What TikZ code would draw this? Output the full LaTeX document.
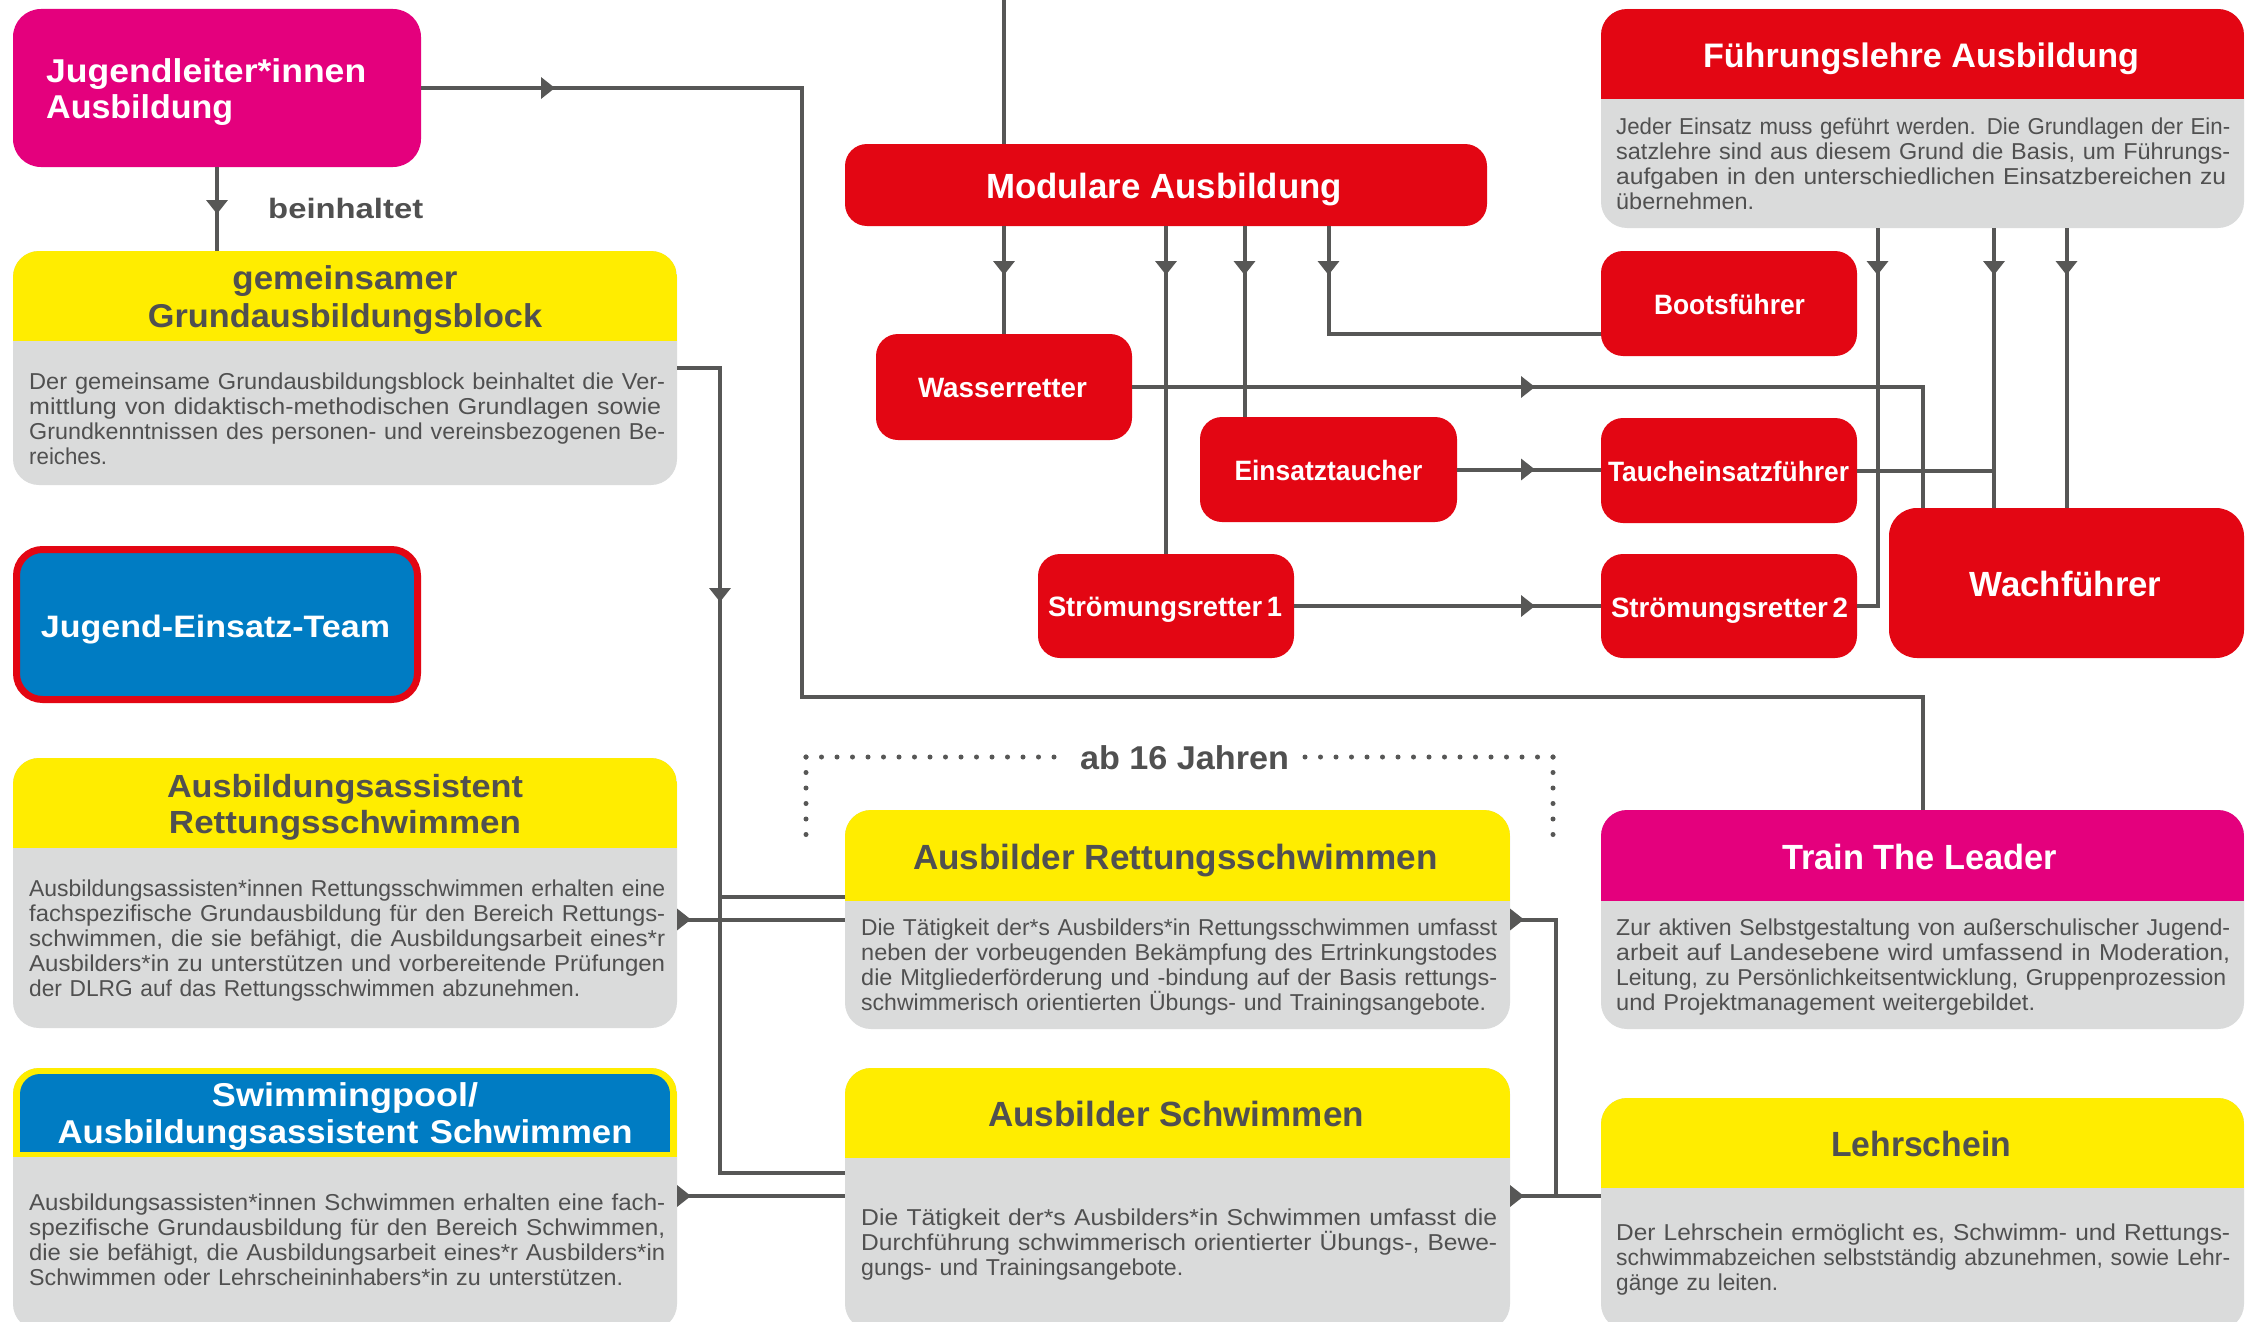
\documentclass[tikz,border=0pt]{standalone}
\usepackage{fontspec}
\setmainfont{Liberation Sans}
\usepackage{graphicx}
\usetikzlibrary{arrows.meta,decorations.markings}
\definecolor{dred}{RGB}{227,6,19}
\definecolor{dmag}{RGB}{228,0,125}
\definecolor{dblue}{RGB}{0,124,195}
\definecolor{dyel}{RGB}{255,237,0}
\definecolor{dgray}{RGB}{218,219,219}
\definecolor{lgray}{RGB}{87,87,86}
\definecolor{tgray}{RGB}{80,80,80}
\newcommand\fw[2]{\resizebox{#1pt}{\height}{#2}}
\newcommand\fsz[2]{\fontsize{#1}{#2}\selectfont}
\newcommand\hdr[3]{\begin{scope}\clip[rounded corners=26pt] (#1.north west) rectangle (#1.south east);\fill[#2] (#1.north west) rectangle ([yshift=-#3pt]#1.north east);\end{scope}}
\tikzset{
 bx/.style={rectangle, inner sep=0pt, outer sep=0pt, anchor=north west, rounded corners=#1},
 bx/.default=26pt,
 conn/.style={color=lgray, line width=4pt},
 am/.style={postaction={decorate}, decoration={markings, mark=at position #1 with {\arrow{Triangle[length=14pt,width=21pt]}}}},
 dotline/.style={color=lgray, line width=5pt, line cap=round, dash pattern=on 0pt off 15.5pt},
 tw/.style={anchor=base, inner sep=0pt, text=white, font=\bfseries\fsz{#1}{#1}},
 tg/.style={anchor=base, inner sep=0pt, text=tgray, font=\bfseries\fsz{#1}{#1}},
 body/.style={anchor=base west, inner sep=0pt, text=tgray, align=left, text width=#1pt, font=\fsz{23}{25.2}},
}
\begin{document}
\lineskiplimit=-60pt
\begin{tikzpicture}[x=1pt,y=-1pt]
\useasboundingbox (0,0) rectangle (2255,1322);
\fill[white] (0,0) rectangle (2255,1322);

% ---------- left column ----------
\node[bx=28pt, fill=dmag, minimum width=408pt, minimum height=158pt] (jug) at (13,9) {};
\node[tw=33, anchor=base west, text width=340pt, align=left, font=\bfseries\fsz{33}{36}] (jugt) at (46,82) {\fw{320}{Jugendleiter*innen}\\\fw{187}{Ausbildung}};
\node[tg=28, anchor=base west] (bein) at (268,218) {\fw{155}{beinhaltet}};

\node[bx, fill=dgray, minimum width=664pt, minimum height=234pt] (gem) at (13,251) {};
\hdr{gem}{dyel}{90}
\node[tg=33, text width=640pt, align=center, font=\bfseries\fsz{33}{38}] (gemt) at (345,289) {\fw{225}{gemeinsamer}\\\fw{394}{Grundausbildungsblock}};
\node[body=640] (gemb) at (29,389) {\fw{636}{Der gemeinsame Grundausbildungsblock beinhaltet die Ver-}\\\fw{632}{mittlung von didaktisch-methodischen Grundlagen sowie}\\\fw{636}{Grundkenntnissen des personen- und vereinsbezogenen Be-}\\\fw{78}{reiches.}};

\node[bx, fill=dblue, draw=dred, line width=7pt, minimum width=401pt, minimum height=150pt] (jet) at (16.5,549.5) {};
\node[tw=31] (jett) at (215.5,637) {\fw{349}{Jugend-Einsatz-Team}};

\node[bx, fill=dgray, minimum width=664pt, minimum height=270pt] (aars) at (13,758) {};
\hdr{aars}{dyel}{90}
\node[tg=32, text width=640pt, align=center, font=\bfseries\fsz{32}{36}] (aarst) at (345,797) {\fw{356}{Ausbildungsassistent}\\\fw{352}{Rettungsschwimmen}};
\node[body=640] (aarsb) at (29,896) {\fw{636}{Ausbildungsassisten*innen Rettungsschwimmen erhalten eine}\\\fw{636}{fachspezifische Grundausbildung für den Bereich Rettungs-}\\\fw{636}{schwimmen, die sie befähigt, die Ausbildungsarbeit eines*r}\\\fw{636}{Ausbilders*in zu unterstützen und vorbereitende Prüfungen}\\\fw{551}{der DLRG auf das Rettungsschwimmen abzunehmen.}};

\node[bx, fill=dgray, minimum width=664pt, minimum height=262pt] (swim) at (13,1068) {};
\hdr{swim}{dyel}{89}
\begin{scope}
\clip[rounded corners=20pt] ([xshift=7pt,yshift=-6pt]swim.north west) rectangle ([xshift=-7pt,yshift=-200pt]swim.north east);
\fill[dblue] ([xshift=7pt,yshift=-6pt]swim.north west) rectangle ([xshift=-7pt,yshift=-84pt]swim.north east);
\end{scope}
\node[tw=33, text width=640pt, align=center, font=\bfseries\fsz{33}{37}] (swimt) at (345,1106) {\fw{266}{Swimmingpool/}\\\fw{575}{Ausbildungsassistent Schwimmen}};
\node[body=640] (swimb) at (29,1210) {\fw{636}{Ausbildungsassisten*innen Schwimmen erhalten eine fach-}\\\fw{636}{spezifische Grundausbildung für den Bereich Schwimmen,}\\\fw{636}{die sie befähigt, die Ausbildungsarbeit eines*r Ausbilders*in}\\\fw{594}{Schwimmen oder Lehrscheininhabers*in zu unterstützen.}};

% ---------- red modules ----------
\node[bx=22pt, fill=dred, minimum width=642pt, minimum height=82pt] (mod) at (845,144) {};
\node[tw=35] (modt) at (1164,198) {\fw{356}{Modulare Ausbildung}};
\node[bx=22pt, fill=dred, minimum width=256pt, minimum height=106pt] (wass) at (876,334) {};
\node[tw=28] (wasst) at (1002.5,397) {\fw{169}{Wasserretter}};
\node[bx=22pt, fill=dred, minimum width=257pt, minimum height=105pt] (eins) at (1200,417) {};
\node[tw=28] (einst) at (1328.5,480) {\fw{188}{Einsatztaucher}};
\node[bx=22pt, fill=dred, minimum width=256pt, minimum height=104pt] (str1) at (1038,554) {};
\node[tw=28] (str1t) at (1165,616) {\fw{234}{Strömungsretter\,1}};
\node[bx=22pt, fill=dred, minimum width=256pt, minimum height=105pt] (boot) at (1601,251) {};
\node[tw=28] (boott) at (1729.5,314) {\fw{151}{Bootsführer}};
\node[bx=22pt, fill=dred, minimum width=256pt, minimum height=105pt] (tauch) at (1601,418) {};
\node[tw=28] (taucht) at (1728.5,481) {\fw{241}{Taucheinsatzführer}};
\node[bx=22pt, fill=dred, minimum width=256pt, minimum height=104pt] (str2) at (1601,554) {};
\node[tw=28] (str2t) at (1729.5,617) {\fw{237}{Strömungsretter\,2}};
\node[bx=28pt, fill=dred, minimum width=355pt, minimum height=150pt] (wach) at (1889,508) {};
\node[tw=35] (wacht) at (2065.5,596) {\fw{192}{Wachführer}};

\node[bx, fill=dgray, minimum width=643pt, minimum height=219pt] (fuehr) at (1601,9) {};
\hdr{fuehr}{dred}{90}
\node[tw=34] (fuehrt) at (1921,68) {\fw{436}{Führungslehre Ausbildung}};
\node[body=620] (fuehrb) at (1616,134) {\fw{614}{Jeder Einsatz muss geführt werden. Die Grundlagen der Ein-}\\\fw{614}{satzlehre sind aus diesem Grund die Basis, um Führungs-}\\\fw{610}{aufgaben in den unterschiedlichen Einsatzbereichen zu}\\\fw{138}{übernehmen.}};

% ---------- bottom middle / right ----------
\node[tg=33, inner xsep=14pt] (ab) at (1184.5,769) {\fw{209}{ab 16 Jahren}};

\node[bx, fill=dgray, minimum width=665pt, minimum height=219pt] (ausRS) at (845,810) {};
\hdr{ausRS}{dyel}{91}
\node[tg=35] (ausRSt) at (1175.5,869) {\fw{525}{Ausbilder Rettungsschwimmen}};
\node[body=640] (ausRSb) at (861,935) {\fw{636}{Die Tätigkeit der*s Ausbilders*in Rettungsschwimmen umfasst}\\\fw{636}{neben der vorbeugenden Bekämpfung des Ertrinkungstodes}\\\fw{636}{die Mitgliederförderung und -bindung auf der Basis rettungs-}\\\fw{625}{schwimmerisch orientierten Übungs- und Trainingsangebote.}};

\node[bx, fill=dgray, minimum width=665pt, minimum height=262pt] (ausS) at (845,1068) {};
\hdr{ausS}{dyel}{90}
\node[tg=35] (ausSt) at (1176,1126) {\fw{376}{Ausbilder Schwimmen}};
\node[body=640] (ausSb) at (861,1225) {\fw{636}{Die Tätigkeit der*s Ausbilders*in Schwimmen umfasst die}\\\fw{636}{Durchführung schwimmerisch orientierter Übungs-, Bewe-}\\\fw{322}{gungs- und Trainingsangebote.}};

\node[bx, fill=dgray, minimum width=643pt, minimum height=219pt] (ttl) at (1601,810) {};
\hdr{ttl}{dmag}{91}
\node[tw=35] (ttlt) at (1919.5,869) {\fw{275}{Train The Leader}};
\node[body=620] (ttlb) at (1616,935) {\fw{614}{Zur aktiven Selbstgestaltung von außerschulischer Jugend-}\\\fw{614}{arbeit auf Landesebene wird umfassend in Moderation,}\\\fw{610}{Leitung, zu Persönlichkeitsentwicklung, Gruppenprozession}\\\fw{419}{und Projektmanagement weitergebildet.}};

\node[bx, fill=dgray, minimum width=643pt, minimum height=232pt] (lehr) at (1601,1098) {};
\hdr{lehr}{dyel}{90}
\node[tg=35] (lehrt) at (1921,1156) {\fw{180}{Lehrschein}};
\node[body=620] (lehrb) at (1616,1240) {\fw{614}{Der Lehrschein ermöglicht es, Schwimm- und Rettungs-}\\\fw{614}{schwimmabzeichen selbstständig abzunehmen, sowie Lehr-}\\\fw{162}{gänge zu leiten.}};

% ---------- connectors ----------
\coordinate (topin) at (1004,-5);
\draw[conn] (topin) -- (topin |- mod.north);
\draw[conn, am=49pt] (wass.north |- mod.south) -- (wass.north);
\draw[conn, am=49pt] (str1.north |- mod.south) -- (str1.north);
\draw[conn, am=49pt] ([xshift=-84pt]eins.north |- mod.south) -- ([xshift=-84pt]eins.north);
\draw[conn, am=49pt] (eins.north |- mod.south) |- ([yshift=-83pt]boot.north west);
\draw[conn, am=403pt] (wass.east) -| ([xshift=-144pt]wach.north);
\draw[conn, am=78pt] (eins.east) -- (eins.east -| tauch.west);
\draw[conn, am=241pt] (str1.east) -- (str1.east -| str2.west);
\draw[conn, am=47pt] ([xshift=-45pt]fuehr.south) |- (str2.east);
\draw[conn, am=47pt] ([xshift=71.5pt]fuehr.south) coordinate (fA) -- (fA |- wach.north);
\draw[conn, am=47pt] (wach.north |- fuehr.south) -- (wach.north);
\draw[conn] (tauch.east) -- (tauch.east -| fA);

\draw[conn, am=134pt] (jug.east) -- ++(381,0) -- ++(0,609) -| (ttl.north);
\draw[conn, am=47pt] (jug.south) -- (jug.south |- gem.north);
\draw[conn, am=277pt] (gem.east) -- ++(43,0) |- ([yshift=-105pt]ausS.north west);
\draw[conn] ([yshift=-87pt]ausRS.north west) -- ++(-125,0);
\draw[conn, am=14pt] (aars.east |- ausRS.west) -- (ausRS.west);
\draw[conn, am=14pt] ([yshift=-128pt]swim.north east) -- ([yshift=-128pt]ausS.north west);
\draw[conn, am=14pt] ([yshift=-128pt]ausS.north east) coordinate (asE) -- (asE -| lehr.west);
\draw[conn, am=14pt] (ausRS.east) -- ++(46,0) |- (asE -| lehr.west);

% ---------- dotted bracket ----------
\coordinate (dL) at (806,757);
\coordinate (dR) at (1553,757);
\draw[dotline] (dL) -- ++(0,83);
\draw[dotline] (dL) -- (dL -| ab.west);
\draw[dotline] (dR) -- (dR -| ab.east);
\draw[dotline] (dR) -- ++(0,83);
\end{tikzpicture}
\end{document}
